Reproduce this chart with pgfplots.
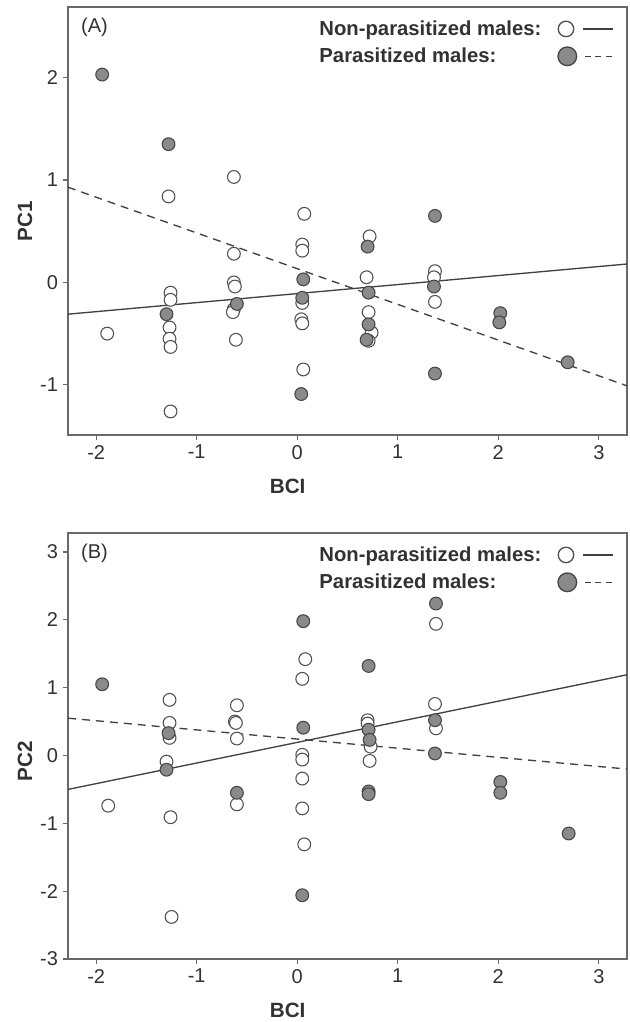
\documentclass[border=0pt]{standalone}
\usepackage{pgfplots}
\pgfplotsset{compat=1.18}
\usepackage{fontspec}
\setmainfont{Liberation Sans}
\definecolor{axc}{RGB}{105,105,105}
\definecolor{txc}{RGB}{50,50,50}
\definecolor{opc}{RGB}{80,80,80}
\definecolor{flc}{RGB}{138,138,138}
\definecolor{fle}{RGB}{70,70,70}
\definecolor{lnc}{RGB}{65,65,65}

\pgfplotstableread{
x y
-1.89 -0.50
-1.28 0.84
-1.26 -0.10
-1.26 -0.17
-1.27 -0.44
-1.27 -0.55
-1.26 -0.63
-1.26 -1.26
-0.63 1.03
-0.63 0.28
-0.63 0.00
-0.62 -0.04
-0.63 -0.26
-0.64 -0.29
-0.61 -0.56
0.07 0.67
0.05 0.37
0.05 0.31
0.05 -0.20
0.04 -0.36
0.05 -0.40
0.06 -0.85
0.72 0.45
0.69 0.05
0.71 -0.29
0.74 -0.49
0.71 -0.57
1.37 0.11
1.36 0.05
1.37 -0.19
}\AOpen
\pgfplotstableread{
x y
-1.94 2.03
-1.28 1.35
-1.30 -0.31
-0.60 -0.21
0.06 0.03
0.05 -0.15
0.04 -1.09
0.70 0.35
0.71 -0.10
0.71 -0.41
0.69 -0.56
1.37 0.65
1.36 -0.04
1.37 -0.89
2.02 -0.30
2.01 -0.39
2.69 -0.78
}\AFilled
\pgfplotstableread{
x y
-1.88 -0.74
-1.27 0.82
-1.27 0.48
-1.27 0.26
-1.30 -0.09
-1.26 -0.91
-1.25 -2.38
-0.60 0.74
-0.62 0.50
-0.61 0.48
-0.60 0.25
-0.60 -0.72
0.08 1.42
0.05 1.13
0.05 0.01
0.05 -0.06
0.05 -0.34
0.05 -0.78
0.07 -1.31
0.70 0.52
0.70 0.47
0.73 0.13
0.72 -0.08
1.38 1.94
1.37 0.76
1.38 0.40
}\BOpen
\pgfplotstableread{
x y
-1.94 1.05
-1.28 0.33
-1.30 -0.21
-0.60 -0.55
0.06 1.98
0.06 0.41
0.05 -2.06
0.71 1.32
0.71 0.38
0.72 0.23
0.71 -0.53
0.71 -0.57
1.38 2.24
1.37 0.52
1.37 0.03
2.02 -0.39
2.02 -0.55
2.70 -1.15
}\BFilled

\pgfplotsset{
  panel/.style={
    scale only axis,
    width=419.25pt,
    xmin=-2.28, xmax=3.28,
    xtick={-2,-1,0,1,2,3},
    axis line style={axc, line width=1.1pt},
    tick style={axc, line width=0.9pt},
    major tick length=4pt,
    tick align=outside,
    tick pos=left,
    ticklabel style={font=\fontsize{15}{17}\selectfont, text=txc},
    /pgf/number format/assume math mode=true,
    label style={font=\bfseries\fontsize{15.5}{18}\selectfont, text=txc},
    xlabel={BCI},
    xlabel style={at={(axis description cs:0.393,-0.121)}, anchor=center},
    legend plot pos=right,
    legend cell align=left,
    legend style={draw=none, fill=none, inner sep=0pt,
      font=\bfseries\fontsize{15.2}{17}\selectfont, text=txc,
      at={(rel axis cs:1,1)}, anchor=north east, xshift=-8pt, yshift=-8pt,
      /tikz/column sep=10pt,
      /tikz/row sep=4pt},
    clip=false,
  },
  openpt/.style={only marks, mark=*, mark size=4.8pt, mark options={draw=opc, fill=white, line width=0.8pt}, forget plot},
  fillpt/.style={only marks, mark=*, mark size=4.8pt, mark options={draw=fle, fill=flc, line width=0.8pt}, forget plot},
  fitsolid/.style={no marks, lnc, line width=1pt, forget plot},
  fitdash/.style={no marks, lnc, line width=1pt, dash pattern=on 6pt off 4.5pt, forget plot},
  legopen/.style={legend image code/.code={
      \draw[draw=opc, fill=white, line width=1pt] (6pt,0pt) circle[radius=5.8pt];
      \draw[lnc, line width=1.1pt] (19pt,0pt) -- (41pt,0pt);}},
  legfill/.style={legend image code/.code={
      \draw[draw=fle, fill=flc, line width=1pt] (7pt,0pt) circle[radius=7pt];
      \draw[lnc, line width=1.1pt, dash pattern=on 4.5pt off 3.5pt] (20pt,0pt) -- (43pt,0pt);}},
}

\begin{document}
\begin{tikzpicture}
\path[use as bounding box] (0,0) rectangle (472.5pt,766.5pt);

% Panel A
\begin{axis}[panel, at={(51pt,440.25pt)}, anchor=south west,
  height=321pt, ymin=-1.49, ymax=2.69, ytick={-1,0,1,2},
  ylabel={PC1},
  ylabel style={at={(axis description cs:-0.077,0.5)}, anchor=center, rotate=0}]
  \addlegendimage{legopen}
  \addlegendentry{Non-parasitized males:}
  \addlegendimage{legfill}
  \addlegendentry{Parasitized males:}
  \addplot[openpt] table[x=x,y=y] {\AOpen};
  \addplot[fillpt] table[x=x,y=y] {\AFilled};
  \addplot[fitsolid] coordinates {(-2.28,-0.31) (3.28,0.18)};
  \addplot[fitdash] coordinates {(-2.28,0.93) (3.28,-1.01)};
  \node[anchor=north west, font=\fontsize{15}{17}\selectfont, text=txc] at (rel axis cs:0.015,0.985) {(A)};
\end{axis}

% Panel B
\begin{axis}[panel, at={(51pt,47.25pt)}, anchor=south west,
  height=319.5pt, ymin=-3, ymax=3.28, ytick={-3,-2,-1,0,1,2,3},
  ylabel={PC2},
  ylabel style={at={(axis description cs:-0.077,0.465)}, anchor=center}]
  \addlegendimage{legopen}
  \addlegendentry{Non-parasitized males:}
  \addlegendimage{legfill}
  \addlegendentry{Parasitized males:}
  \addplot[openpt] table[x=x,y=y] {\BOpen};
  \addplot[fillpt] table[x=x,y=y] {\BFilled};
  \addplot[fitsolid] coordinates {(-2.28,-0.50) (3.28,1.19)};
  \addplot[fitdash] coordinates {(-2.28,0.55) (3.28,-0.20)};
  \node[anchor=north west, font=\fontsize{15}{17}\selectfont, text=txc] at (rel axis cs:0.015,0.985) {(B)};
\end{axis}
\end{tikzpicture}
\end{document}
